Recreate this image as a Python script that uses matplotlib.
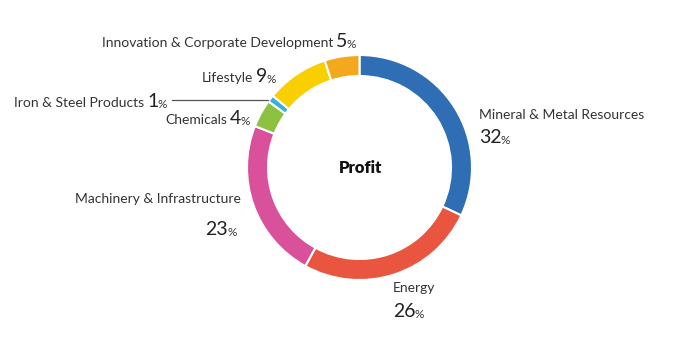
import matplotlib.pyplot as plt

# segments, clockwise from 12 o'clock
segments = ['Mineral & Metal Resources', 'Energy', 'Machinery & Infrastructure',
            'Chemicals', 'Iron & Steel Products', 'Lifestyle',
            'Innovation & Corporate Development']
shares = [32, 26, 23, 4, 1, 9, 5]
colors = ['#2f6db5', '#e9553f', '#d9509b', '#8cc23f', '#38b0d8', '#f9cf00', '#f4a81d']

W, H = 679, 343
plt.rcParams['font.family'] = ['Lato', 'DejaVu Sans']

fig = plt.figure(figsize=(W / 100, H / 100), dpi=100)
ax = fig.add_axes([0, 0, 1, 1])

ax.pie(shares, colors=colors, startangle=90, counterclock=False,
       center=(359.5, H - 167.5), radius=112.5,
       wedgeprops=dict(width=21, edgecolor='white', linewidth=1.5))
ax.set_xlim(0, W)
ax.set_ylim(0, H)
ax.set_aspect('equal')
ax.axis('off')

ax.text(361, H - 168, 'Profit', ha='center', va='center',
        fontsize=12, fontweight='heavy', color='#111111')

label_kw = dict(fontsize=10, color='#333333')
num_kw = dict(fontsize=14, color='#222222')
pct_kw = dict(fontsize=8.5, color='#333333')


def add_pct(num_txt):
    ax.annotate('%', xy=(1, 0), xycoords=num_txt, xytext=(-0.5, 0),
                textcoords='offset points', va='bottom', ha='left', **pct_kw)


# inline labels: "name N%" on one baseline, number starts at x
inline = {
    'Innovation & Corporate Development': (336, 47),
    'Lifestyle': (256, 82),
    'Iron & Steel Products': (147, 107),
    'Chemicals': (230, 124),
}
for name, (x, y) in inline.items():
    ax.text(x - 3, H - y, name, ha='right', va='baseline', **label_kw)
    n = ax.text(x, H - y, str(shares[segments.index(name)]),
                ha='left', va='baseline', **num_kw)
    add_pct(n)

# leader line for Iron & Steel
ax.plot([172, 268], [H - 100, H - 100], color='#555555', lw=0.9)

# two-line labels
ax.text(479, H - 119, segments[0], ha='left', va='baseline', **label_kw)
n = ax.text(479, H - 143, str(shares[0]), ha='left', va='baseline', **num_kw)
add_pct(n)

ax.text(393, H - 292, segments[1], ha='left', va='baseline', **label_kw)
n = ax.text(393, H - 317, str(shares[1]), ha='left', va='baseline', **num_kw)
add_pct(n)

ax.text(241, H - 203, segments[2], ha='right', va='baseline', **label_kw)
n = ax.text(228, H - 235, str(shares[2]), ha='right', va='baseline', **num_kw)
add_pct(n)

fig.savefig('out.png', dpi=100, facecolor='white')
